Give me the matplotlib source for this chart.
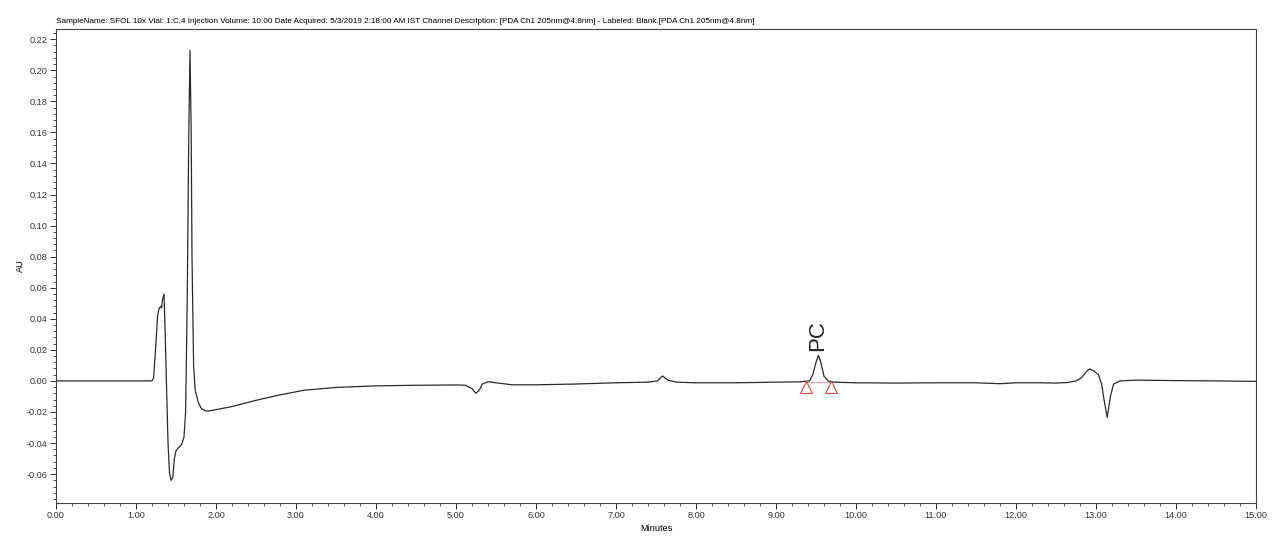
import matplotlib
matplotlib.use("Agg")
import matplotlib.pyplot as plt
from matplotlib.ticker import MultipleLocator, AutoMinorLocator, FormatStrFormatter

plt.rcParams['font.family'] = ['Liberation Sans', 'DejaVu Sans']

# trace (minutes, AU)
temps = [0.00, 1.20, 1.22, 1.25, 1.27, 1.29, 1.31, 1.32, 1.33, 1.35, 1.36, 1.38, 1.40,
         1.42, 1.44, 1.46, 1.48, 1.50, 1.53, 1.57, 1.60, 1.62, 1.64, 1.66, 1.675, 1.69,
         1.70, 1.72, 1.74, 1.78, 1.82, 1.88, 1.95, 2.20, 2.50, 2.80, 3.10, 3.50, 4.00,
         4.50, 5.00, 5.12, 5.20, 5.25, 5.29, 5.33, 5.40, 5.50, 5.70, 6.00, 6.50, 7.00,
         7.40, 7.52, 7.58, 7.65, 7.75, 8.00, 8.50, 9.00, 9.30, 9.42, 9.46, 9.50, 9.53,
         9.56, 9.60, 9.65, 9.72, 10.00, 10.50, 11.00, 11.50, 11.80, 12.00, 12.30, 12.50,
         12.65, 12.75, 12.82, 12.88, 12.92, 12.97, 13.03, 13.07, 13.10, 13.14, 13.18,
         13.22, 13.30, 13.50, 14.00, 14.50, 15.00]
au = [0.0000, 0.0000, 0.0020, 0.0250, 0.0420, 0.0470, 0.0480, 0.0470, 0.0520, 0.0560,
      0.0400, 0.0000, -0.0400, -0.0600, -0.0640, -0.0620, -0.0500, -0.0450, -0.0430,
      -0.0410, -0.0360, -0.0200, 0.0500, 0.1600, 0.2130, 0.1600, 0.0800, 0.0100,
      -0.0060, -0.0140, -0.0180, -0.0195, -0.0190, -0.0165, -0.0125, -0.0090, -0.0060,
      -0.0042, -0.0032, -0.0028, -0.0026, -0.0028, -0.0050, -0.0080, -0.0060, -0.0020,
      -0.0005, -0.0012, -0.0025, -0.0025, -0.0020, -0.0012, -0.0008, 0.0000, 0.0032,
      0.0005, -0.0008, -0.0012, -0.0012, -0.0008, -0.0006, 0.0000, 0.0040, 0.0120,
      0.0165, 0.0120, 0.0030, 0.0000, -0.0008, -0.0012, -0.0014, -0.0012, -0.0012,
      -0.0018, -0.0012, -0.0012, -0.0014, -0.0010, 0.0000, 0.0020, 0.0060, 0.0077,
      0.0065, 0.0040, -0.0020, -0.0120, -0.0235, -0.0100, -0.0020, 0.0000, 0.0005,
      0.0002, 0.0000, -0.0003]

# integration marks of the PC peak
pic_debut_fin = [9.37, 9.69]
pic_marque_au = [-0.0040, -0.0040]
pic_nom = "PC"
pic_temps = 9.52
pic_au = 0.0195

titre = ("SampleName: SFOL 10x Vial: 1:C,4 Injection Volume: 10.00 Date Acquired: "
         "5/3/2019 2:18:00 AM IST Channel Description: [PDA Ch1 205nm@4.8nm] - "
         "Labeled: Blank.[PDA Ch1 205nm@4.8nm]")

fig = plt.figure(figsize=(12.8, 5.44), dpi=100)
ax = fig.add_axes([0.04375, 0.0754, 0.9375, 0.8713])

ax.plot(temps, au, color='#2a2a2a', linewidth=0.9)
ax.plot(pic_debut_fin, [-0.0006, -0.0006], color='#f0a0a0', linewidth=0.8)
ax.plot(pic_debut_fin, pic_marque_au, linestyle='none', marker='^', markersize=8,
        markerfacecolor='none', markeredgecolor='#e04848', markeredgewidth=0.8)
ax.text(pic_temps, pic_au, pic_nom, rotation=90, ha='center', va='bottom',
        fontsize=16, color='#222222')

ax.set_xlim(0, 15)
ax.set_ylim(-0.0786, 0.2266)
ax.xaxis.set_major_locator(MultipleLocator(1))
ax.xaxis.set_minor_locator(AutoMinorLocator(5))
ax.yaxis.set_major_locator(MultipleLocator(0.02))
ax.yaxis.set_minor_locator(AutoMinorLocator(5))
ax.xaxis.set_major_formatter(FormatStrFormatter('%.2f'))
ax.yaxis.set_major_formatter(FormatStrFormatter('%.2f'))
ax.tick_params(which='major', length=4, width=0.7, labelsize=6.6, colors='#333333', pad=2)
ax.tick_params(which='minor', length=2.5, width=0.6, colors='#333333')
for s in ax.spines.values():
    s.set_color('#444444')
    s.set_linewidth(0.8)

ax.set_xlabel('Minutes', fontsize=6.6, labelpad=3)
ax.set_ylabel('AU', fontsize=6.6, labelpad=1)
ax.set_title(titre, loc='left', fontsize=5.9, pad=4)

fig.savefig('out.png', dpi=100)
